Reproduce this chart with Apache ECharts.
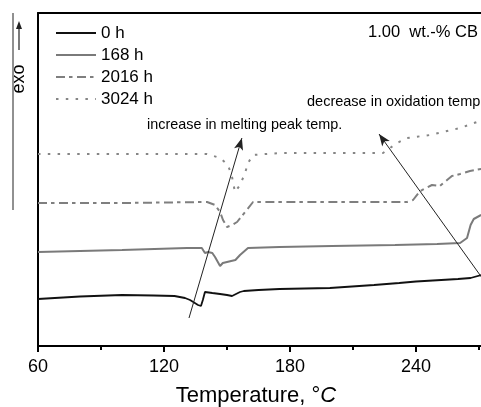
<!DOCTYPE html>
<html>
<head>
<meta charset="utf-8">
<script src="https://cdn.jsdelivr.net/npm/echarts@6/dist/echarts.min.js"></script>
<style>
  html, body { margin: 0; padding: 0; background: #fff; }
  #chart { width: 481px; height: 407px; }
</style>
</head>
<body>
<div id="chart"></div>
<script>
// DSC traces, heat flow in arbitrary units (exo up)
const seriesNames = ['0 h', '168 h', '2016 h', '3024 h'];

const temp0h = [60, 80, 100, 115, 125, 130, 132.4, 136.2, 137.6, 138.5, 139.5, 143, 146.7, 150, 152.4, 156.2, 158, 165, 175, 199, 220, 232, 240, 260, 266, 271];
const heat0h = [47, 49.5, 51, 50.5, 50, 48, 46, 41, 40, 46, 54, 53, 52, 51, 50, 54, 55, 56, 57, 58, 61, 63, 64.5, 67, 68, 71];

const temp168h = [60, 100, 131, 138, 139.5, 141, 143, 144.3, 146.7, 148, 154, 156.2, 160, 175, 200, 230, 250, 261, 264.3, 266, 267.5, 271];
const heat168h = [94, 96, 98, 98, 93, 94, 93, 89, 80, 83, 86, 91, 98, 99, 100, 101, 102, 103, 108, 121, 127, 131];

const temp2016h = [60, 100, 140.5, 144.3, 146.7, 148.1, 150, 152.4, 154.8, 158.6, 162.4, 200, 235.7, 238.6, 242, 247.6, 251.4, 254.8, 257.1, 261, 265.7, 271];
const heat2016h = [143, 143, 144, 141, 134, 126, 119, 121, 124, 134, 144, 144, 144, 146, 155, 161, 160, 166, 170, 172, 175, 177];

const temp3024h = [60, 100, 140.5, 146.7, 150.5, 152.4, 153.8, 156.2, 158.6, 160, 162.4, 175, 200, 224.3, 231, 235.7, 246.7, 261, 269, 271];
const heat3024h = [192, 192, 192, 188, 181, 169, 154, 161, 173, 183, 191, 193, 193, 193, 203, 208, 211, 218, 224, 229];

// annotation arrows [tail, tip] in data coords
const meltArrow = [[131.9, 28], [157.1, 208]];
const oxArrow = [[275, 57.7], [222.4, 212]];

const xTicks = { min: 60, max: 300, interval: 60 };

const FONT = 'Liberation Sans, Arial, Helvetica, sans-serif';

function zip(xs, ys) {
    return xs.map((x, i) => [x, ys[i]]);
}

const chart = echarts.init(document.getElementById('chart'));

const option = {
    animation: false,
    backgroundColor: '#fff',
    grid: {
        left: 38,
        top: 13,
        width: 504,
        height: 333,
        containLabel: false,
        outerBoundsMode: 'none'
    },
    legend: {
        orient: 'vertical',
        left: 55,
        top: 22,
        padding: 0,
        itemWidth: 40,
        itemHeight: 12,
        itemGap: 0,
        data: seriesNames,
        // hide the symbol ECharts puts in the middle of a line icon
        itemStyle: { opacity: 0 },
        textStyle: { fontFamily: FONT, fontSize: 17, color: '#000', lineHeight: 22 }
    },
    xAxis: [{
        type: 'value',
        min: xTicks.min,
        max: xTicks.max,
        interval: xTicks.interval,
        position: 'bottom',
        name: '{a|Temperature, °}{b|C}',
        nameLocation: 'middle',
        nameGap: 39,
        nameTextStyle: {
            padding: [0, 68, 0, 0],
            rich: {
                a: { fontFamily: FONT, fontSize: 22, color: '#000' },
                b: { fontFamily: FONT, fontSize: 22, color: '#000', fontStyle: 'italic' }
            }
        },
        axisLine: { show: true, lineStyle: { color: '#000', width: 2 } },
        axisTick: { show: true, inside: false, length: 6, lineStyle: { color: '#000', width: 2 } },
        minorTick: { show: true, splitNumber: 2, length: 4, lineStyle: { color: '#000', width: 2 } },
        axisLabel: { margin: 12, fontFamily: FONT, fontSize: 18, color: '#000' },
        splitLine: { show: false },
        minorSplitLine: { show: false }
    }, {
        type: 'value',
        min: xTicks.min,
        max: xTicks.max,
        position: 'top',
        axisLine: { show: true, lineStyle: { color: '#000', width: 2 } },
        axisTick: { show: false },
        axisLabel: { show: false },
        splitLine: { show: false }
    }],
    yAxis: {
        type: 'value',
        min: 0,
        max: 333,
        axisLine: { show: true, lineStyle: { color: '#000', width: 2 } },
        axisTick: { show: false },
        axisLabel: { show: false },
        splitLine: { show: false }
    },
    series: [
        {
            name: '0 h',
            type: 'line',
            symbol: 'none',
            data: zip(temp0h, heat0h),
            lineStyle: { color: '#111', width: 1.8 },
            itemStyle: { color: '#111' },
            markLine: {
                silent: true,
                symbol: ['none', 'arrow'],
                symbolSize: [7, 12],
                label: { show: false },
                lineStyle: { color: '#222', width: 1, type: 'solid' },
                emphasis: { disabled: true },
                data: [
                    [{ coord: meltArrow[0] }, { coord: meltArrow[1] }],
                    [{ coord: oxArrow[0] }, { coord: oxArrow[1] }]
                ]
            }
        },
        {
            name: '168 h',
            type: 'line',
            symbol: 'none',
            data: zip(temp168h, heat168h),
            lineStyle: { color: '#7a7a7a', width: 2 },
            itemStyle: { color: '#7a7a7a' }
        },
        {
            name: '2016 h',
            type: 'line',
            symbol: 'none',
            data: zip(temp2016h, heat2016h),
            lineStyle: { color: '#7f7f7f', width: 2, type: [9, 4, 3.5, 4.5] },
            itemStyle: { color: '#7f7f7f' }
        },
        {
            name: '3024 h',
            type: 'line',
            symbol: 'none',
            data: zip(temp3024h, heat3024h),
            lineStyle: { color: '#858585', width: 2, type: [2.5, 7.3] },
            itemStyle: { color: '#858585' }
        }
    ],
    graphic: [
        // ordinate hint at the far left
        { type: 'line', shape: { x1: 13, y1: 13, x2: 13, y2: 210 }, style: { stroke: '#222', lineWidth: 1 } },
        { type: 'line', shape: { x1: 19, y1: 50, x2: 19, y2: 27 }, style: { stroke: '#222', lineWidth: 1.2 } },
        { type: 'polygon', shape: { points: [[16, 29], [19, 21], [22, 29]] }, style: { fill: '#222' } },
        {
            type: 'text', x: 19, y: 79, rotation: Math.PI / 2,
            style: { text: 'exo', font: '18px ' + FONT, fill: '#000', align: 'center', verticalAlign: 'middle' }
        },
        {
            type: 'text', x: 368, y: 32,
            style: { text: '1.00  wt.-% CB', font: '16.5px ' + FONT, fill: '#000', verticalAlign: 'middle' }
        },
        {
            type: 'text', x: 147, y: 125,
            style: { text: 'increase in melting peak temp.', font: '14.4px ' + FONT, fill: '#000', verticalAlign: 'middle' }
        },
        {
            type: 'text', x: 307, y: 102,
            style: { text: 'decrease in oxidation temp.', font: '14.5px ' + FONT, fill: '#000', verticalAlign: 'middle' }
        }
    ]
};

chart.setOption(option);
</script>
</body>
</html>
